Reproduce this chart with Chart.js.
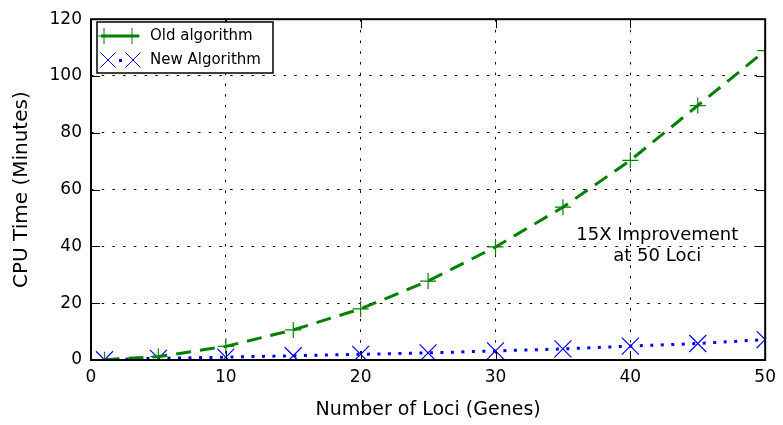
<!DOCTYPE html>
<html>
<head>
<meta charset="UTF-8">
<title>CPU Time vs Loci</title>
<script src="https://cdn.jsdelivr.net/npm/chart.js"></script>
<style>
  body { margin: 0; background: #fff; }
  #wrap { width: 783px; height: 425px; }
</style>
</head>
<body>
<div id="wrap"><canvas id="grafico"></canvas></div>
<script>
// dados
var loci = [1, 5, 10, 15, 20, 25, 30, 35, 40, 45, 50];
var tempoAntigo = [0.1, 1.2, 4.8, 10.6, 18.0, 27.8, 39.8, 53.8, 70.3, 89.6, 108.9];
var tempoNovo = [0.1, 0.6, 1.0, 1.5, 2.0, 2.5, 3.2, 3.9, 4.9, 5.8, 7.2];
var ticksX = [0, 10, 20, 30, 40, 50];
var ticksY = [0, 20, 40, 60, 80, 100, 120];
var nomes = ["Old algorithm", "New Algorithm"];
var nota = ["15X Improvement", "at 50 Loci"];

var fonte = "'DejaVu Sans', sans-serif";
var verde = "#008000";
var azul = "#0000ff";

function pontos(ys) {
  var r = [];
  for (var i = 0; i < loci.length; i++) {
    r.push({ x: loci[i], y: ys[i] });
  }
  return r;
}

function mais(ctx, x, y, r) {
  ctx.beginPath();
  ctx.moveTo(x - r, y); ctx.lineTo(x + r, y);
  ctx.moveTo(x, y - r); ctx.lineTo(x, y + r);
  ctx.stroke();
}

function xis(ctx, x, y, r) {
  ctx.beginPath();
  ctx.moveTo(x - r, y - r); ctx.lineTo(x + r, y + r);
  ctx.moveTo(x - r, y + r); ctx.lineTo(x + r, y - r);
  ctx.stroke();
}

var moldura = {
  id: "moldura",
  afterDraw: function (chart) {
    var ctx = chart.ctx;
    var a = chart.chartArea;
    var sx = chart.scales.x, sy = chart.scales.y;
    ctx.save();
    ctx.strokeStyle = "#000";
    ctx.lineWidth = 1;
    // ticks para dentro nos quatro lados
    ticksX.forEach(function (v) {
      var px = Math.round(sx.getPixelForValue(v)) + 0.5;
      ctx.beginPath();
      ctx.moveTo(px, a.bottom); ctx.lineTo(px, a.bottom - 9);
      ctx.moveTo(px, a.top); ctx.lineTo(px, a.top + 9);
      ctx.stroke();
    });
    ticksY.forEach(function (v) {
      var py = Math.round(sy.getPixelForValue(v)) + 0.5;
      ctx.beginPath();
      ctx.moveTo(a.left, py); ctx.lineTo(a.left + 9, py);
      ctx.moveTo(a.right, py); ctx.lineTo(a.right - 9, py);
      ctx.stroke();
    });
    ctx.lineWidth = 2;
    ctx.strokeRect(a.left, a.top, a.right - a.left, a.bottom - a.top);

    // legenda
    ctx.fillStyle = "#fff";
    ctx.fillRect(97, 22, 176, 51);
    ctx.lineWidth = 1.5;
    ctx.strokeRect(97, 22, 176, 51);

    ctx.strokeStyle = verde;
    ctx.lineWidth = 3;
    ctx.beginPath(); ctx.moveTo(101, 36); ctx.lineTo(139, 36); ctx.stroke();
    ctx.lineWidth = 1;
    mais(ctx, 104, 36, 8);
    mais(ctx, 132, 36, 8);

    ctx.strokeStyle = azul;
    ctx.lineWidth = 1;
    xis(ctx, 108, 60, 7.5);
    xis(ctx, 133, 60, 7.5);
    ctx.fillStyle = azul;
    ctx.fillRect(119, 59, 3, 3);

    ctx.fillStyle = "#000";
    ctx.font = "15px " + fonte;
    ctx.textAlign = "left";
    ctx.textBaseline = "middle";
    ctx.fillText(nomes[0], 150, 36);
    ctx.fillText(nomes[1], 150, 60);

    // anotacao
    ctx.font = "18px " + fonte;
    ctx.textAlign = "center";
    ctx.fillText(nota[0], sx.getPixelForValue(42), sy.getPixelForValue(43.8));
    ctx.fillText(nota[1], sx.getPixelForValue(42), sy.getPixelForValue(36.5));
    ctx.restore();
  }
};

new Chart(document.getElementById("grafico"), {
  type: "scatter",
  data: {
    datasets: [{
      label: nomes[0],
      data: pontos(tempoAntigo),
      showLine: true,
      borderColor: verde,
      borderWidth: 3,
      borderDash: [15, 9],
      pointStyle: "cross",
      pointRadius: 8,
      pointBorderWidth: 1.2,
      pointBorderColor: verde,
      pointBackgroundColor: verde,
      clip: 0
    }, {
      label: nomes[1],
      data: pontos(tempoNovo),
      showLine: true,
      borderColor: azul,
      borderWidth: 3,
      borderDash: [3, 7.5],
      pointStyle: "crossRot",
      pointRadius: 12,
      pointBorderWidth: 1.2,
      pointBorderColor: azul,
      pointBackgroundColor: azul,
      clip: 0
    }]
  },
  options: {
    responsive: true,
    maintainAspectRatio: false,
    animation: false,
    layout: { padding: { top: 15, right: 15, left: 0, bottom: 0 } },
    plugins: {
      legend: { display: false },
      tooltip: { enabled: false }
    },
    scales: {
      x: {
        type: "linear",
        min: 0, max: 50,
        afterBuildTicks: function (s) { s.ticks = ticksX.map(function (v) { return { value: v }; }); },
        afterFit: function (s) { s.height = 65; },
        grid: { color: "#000", lineWidth: 1, drawTicks: false },
        border: { display: false, dash: [2.5, 8.2] },
        ticks: { color: "#000", padding: 7, font: { family: fonte, size: 17 }, maxRotation: 0 },
        title: { display: true, text: "Number of Loci (Genes)", color: "#000", font: { family: fonte, size: 19 }, padding: { top: 0, bottom: 4 } }
      },
      y: {
        min: 0, max: 120,
        afterBuildTicks: function (s) { s.ticks = ticksY.map(function (v) { return { value: v }; }); },
        afterFit: function (s) { s.width = 91; },
        grid: { color: "#000", lineWidth: 1, drawTicks: false },
        border: { display: false, dash: [2.5, 8.2] },
        ticks: { color: "#000", padding: 9, font: { family: fonte, size: 17 } },
        title: { display: true, text: "CPU Time (Minutes)", color: "#000", font: { family: fonte, size: 20 }, padding: { top: 10, bottom: 0 } }
      }
    }
  },
  plugins: [moldura]
});
</script>
</body>
</html>
